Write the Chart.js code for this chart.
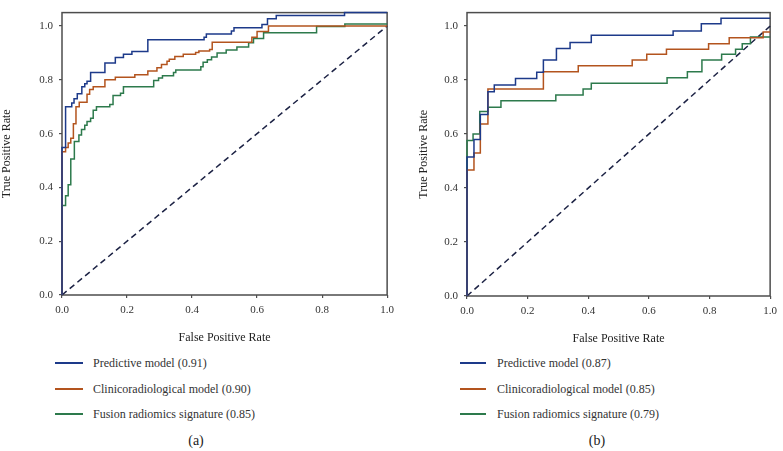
<!DOCTYPE html>
<html>
<head>
<meta charset="utf-8">
<script src="https://cdn.jsdelivr.net/npm/chart.js@4"></script>
<style>
  html, body { margin: 0; padding: 0; background: #fff; }
  #wrap { position: relative; width: 783px; height: 451px; overflow: hidden; font-family: "Liberation Serif", "DejaVu Serif", serif; color: #333; }
  canvas { position: absolute; top: 0; }
  #chart-a { left: 0; }
  #chart-b { left: 405px; }
  .legend-item { position: absolute; font-size: 12px; line-height: 14px; white-space: nowrap; }
  .legend-item .swatch { position: absolute; top: 6px; height: 1.5px; }
  .panel-tag { position: absolute; font-size: 14px; transform: translateX(-50%); color: #222; }
</style>
</head>
<body>
<div id="wrap">
  <canvas id="chart-a" width="400" height="350"></canvas>
  <canvas id="chart-b" width="378" height="350"></canvas>
  <div id="legend-a"></div>
  <div id="legend-b"></div>
  <div class="panel-tag" style="left:196px; top:433px;">(a)</div>
  <div class="panel-tag" style="left:597px; top:433px;">(b)</div>
</div>
<script>
/* ── ROC curves, two cohorts ── */

const seriesNames = ['Predictive model', 'Clinicoradiological model', 'Fusion radiomics signature'];
const seriesColors = ['#1d3a8a', '#b3541e', '#2d7a4c'];
const aucA = [0.91, 0.90, 0.85];
const aucB = [0.87, 0.85, 0.79];
const tickValues = [0, 0.2, 0.4, 0.6, 0.8, 1.0];

// (a) – each point: FPR where TPR jumps, TPR after the jump
const fprA_pred = [0, 0, 0.011, 0.03, 0.037, 0.047, 0.061, 0.07, 0.077, 0.088, 0.132, 0.164, 0.189, 0.215, 0.264, 0.437, 0.444, 0.521, 0.529, 0.615, 0.632, 0.659, 0.869, 1.0];
const tprA_pred = [0, 0.548, 0.70, 0.714, 0.73, 0.748, 0.774, 0.785, 0.795, 0.827, 0.863, 0.883, 0.895, 0.905, 0.949, 0.958, 0.97, 0.982, 0.994, 1.006, 1.027, 1.039, 1.05, 1.05];
const fprA_clin = [0, 0, 0.011, 0.019, 0.027, 0.035, 0.043, 0.053, 0.077, 0.085, 0.096, 0.132, 0.164, 0.224, 0.264, 0.292, 0.306, 0.323, 0.33, 0.347, 0.373, 0.411, 0.421, 0.454, 0.462, 0.584, 0.6, 0.635, 1.0];
const tprA_clin = [0, 0.533, 0.548, 0.565, 0.583, 0.637, 0.70, 0.717, 0.746, 0.764, 0.774, 0.80, 0.81, 0.819, 0.833, 0.845, 0.857, 0.869, 0.877, 0.887, 0.895, 0.902, 0.907, 0.913, 0.94, 0.958, 0.98, 1.0, 1.0];
const fprA_fus = [0, 0, 0.011, 0.019, 0.027, 0.038, 0.052, 0.06, 0.07, 0.077, 0.088, 0.096, 0.106, 0.147, 0.157, 0.18, 0.189, 0.282, 0.297, 0.309, 0.343, 0.35, 0.427, 0.434, 0.447, 0.46, 0.477, 0.505, 0.538, 0.574, 0.589, 0.62, 0.783, 0.87, 1.0];
const tprA_fus = [0, 0.333, 0.369, 0.41, 0.506, 0.571, 0.595, 0.615, 0.631, 0.645, 0.657, 0.687, 0.70, 0.708, 0.742, 0.75, 0.774, 0.798, 0.807, 0.815, 0.827, 0.837, 0.849, 0.865, 0.875, 0.885, 0.90, 0.911, 0.922, 0.938, 0.954, 0.975, 0.998, 1.008, 1.008];

// (b)
const fprB_pred = [0, 0, 0.023, 0.044, 0.069, 0.09, 0.16, 0.23, 0.252, 0.295, 0.34, 0.41, 0.68, 0.773, 0.838, 1.0];
const tprB_pred = [0, 0.515, 0.58, 0.672, 0.757, 0.782, 0.806, 0.829, 0.874, 0.917, 0.939, 0.966, 0.982, 1.009, 1.029, 1.029];
const fprB_clin = [0, 0, 0.023, 0.044, 0.069, 0.252, 0.367, 0.545, 0.593, 0.658, 0.797, 0.865, 0.977, 1.0];
const tprB_clin = [0, 0.467, 0.53, 0.637, 0.767, 0.831, 0.853, 0.874, 0.896, 0.914, 0.935, 0.957, 0.978, 0.978];
const fprB_fus = [0, 0, 0.02, 0.042, 0.069, 0.112, 0.293, 0.383, 0.41, 0.66, 0.727, 0.775, 0.84, 0.886, 0.908, 0.935, 1.0];
const tprB_fus = [0, 0.576, 0.60, 0.684, 0.699, 0.723, 0.745, 0.767, 0.788, 0.809, 0.831, 0.874, 0.896, 0.914, 0.935, 0.96, 0.96];

const chanceLine = [0, 1];

const FONT = '"Liberation Serif", "DejaVu Serif", serif';
const AXIS_COLOR = '#4d4d4d';

// box round the plot area (drawn under the curves)
const framePlugin = {
  id: 'frame',
  beforeDatasetsDraw(chart) {
    const { ctx, chartArea: a } = chart;
    ctx.save();
    ctx.strokeStyle = AXIS_COLOR;
    ctx.lineWidth = 1.5;
    ctx.strokeRect(a.left, a.top, a.right - a.left, a.bottom - a.top);
    ctx.restore();
  }
};

const toPoints = (xs, ys) => xs.map((x, i) => ({ x, y: ys[i] }));

function rocChart(id, curves, auc, cfg) {
  const ctx = document.getElementById(id);
  const datasets = curves.map((c, i) => ({
    label: `${seriesNames[i]} (${auc[i].toFixed(2)})`,
    data: toPoints(c[0], c[1]),
    borderColor: seriesColors[i],
    borderWidth: 1.5,
    stepped: 'before',
    pointRadius: 0,
    clip: false
  }));
  datasets.push({
    label: 'chance',
    data: toPoints(chanceLine, chanceLine),
    borderColor: '#1c2244',
    borderWidth: 1.5,
    borderDash: [6, 4],
    pointRadius: 0,
    clip: false
  });

  const tickSet = s => { s.ticks = tickValues.map(v => ({ value: v })); };

  new Chart(ctx, {
    type: 'line',
    data: { datasets },
    plugins: [framePlugin],
    options: {
      responsive: false,
      animation: false,
      layout: { padding: cfg.padding },
      plugins: { legend: { display: false }, tooltip: { enabled: false } },
      scales: {
        x: {
          type: 'linear', min: 0, max: 1,
          afterBuildTicks: tickSet,
          afterFit: s => { s.height = 50; },
          border: { display: false },
          grid: { drawOnChartArea: false, drawTicks: true, tickLength: 3, color: AXIS_COLOR, lineWidth: 1.2 },
          ticks: { padding: 6, maxRotation: 0, color: '#333', font: { family: FONT, size: 11 }, callback: v => v.toFixed(1) },
          title: { display: true, text: 'False Positive Rate', color: '#222', padding: 0, font: { family: FONT, size: 12 } }
        },
        y: {
          type: 'linear', min: 0, max: 1.05,
          afterBuildTicks: tickSet,
          afterFit: s => { s.width = 62; },
          border: { display: false },
          grid: { drawOnChartArea: false, drawTicks: true, tickLength: 3, color: AXIS_COLOR, lineWidth: 1.2 },
          ticks: { padding: 6, color: '#333', font: { family: FONT, size: 11 }, callback: v => v.toFixed(1) },
          title: { display: true, text: 'True Positive Rate', color: '#222', padding: { top: cfg.yTitlePad, bottom: 0 }, font: { family: FONT, size: 12 } }
        }
      }
    }
  });
  return datasets;
}

function htmlLegend(id, datasets, x0, lineW, textX) {
  const box = document.getElementById(id);
  const rows = [363, 389, 414];
  box.innerHTML = datasets.slice(0, 3).map((d, i) =>
    `<div class="legend-item" style="left:${x0}px; top:${rows[i] - 7}px;">
      <span class="swatch" style="left:0; width:${lineW}px; background:${d.borderColor};"></span>
      <span style="position:absolute; left:${textX - x0}px; top:0;">${d.label}</span>
    </div>`).join('');
}

const dsA = rocChart('chart-a',
  [[fprA_pred, tprA_pred], [fprA_clin, tprA_clin], [fprA_fus, tprA_fus]],
  aucA, { padding: { left: 0, right: 11, top: 1, bottom: 5 }, yTitlePad: 0 });
const dsB = rocChart('chart-b',
  [[fprB_pred, tprB_pred], [fprB_clin, tprB_clin], [fprB_fus, tprB_fus]],
  aucB, { padding: { left: 0, right: 6, top: 10, bottom: 4 }, yTitlePad: 12 });

htmlLegend('legend-a', dsA, 55, 28, 93);
htmlLegend('legend-b', dsB, 460, 26, 497);
</script>
</body>
</html>
